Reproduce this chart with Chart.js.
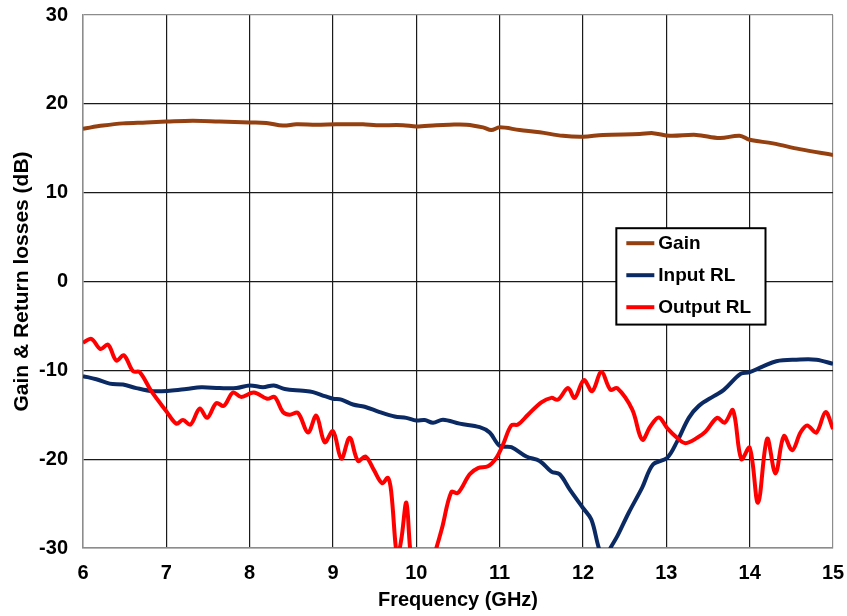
<!DOCTYPE html>
<html>
<head>
<meta charset="utf-8">
<script src="https://cdn.jsdelivr.net/npm/chart.js@4.4.1/dist/chart.umd.min.js"></script>
<style>
  html, body { margin: 0; padding: 0; background: #fff; }
  #wrap { width: 847px; height: 616px; }
</style>
</head>
<body>
<div id="wrap"><canvas id="grafico"></canvas></div>
<script>
// ---- data ----
const gainFreq = [6.0, 6.24, 6.48, 6.76, 7.0, 7.32, 7.64, 8.0, 8.2, 8.4, 8.56, 8.8, 9.04, 9.36, 9.52, 9.84, 10.0, 10.24, 10.4, 10.6, 10.8, 10.9, 11.0, 11.24, 11.48, 11.76, 12.0, 12.24, 12.68, 12.84, 13.04, 13.36, 13.64, 13.88, 14.0, 14.28, 14.6, 15.0];
const gainDb = [17.2, 17.55, 17.8, 17.9, 18.0, 18.1, 18.0, 17.9, 17.85, 17.55, 17.7, 17.65, 17.7, 17.7, 17.6, 17.6, 17.45, 17.6, 17.65, 17.65, 17.35, 17.05, 17.35, 17.05, 16.8, 16.4, 16.3, 16.5, 16.6, 16.7, 16.4, 16.5, 16.15, 16.4, 15.95, 15.55, 14.9, 14.25];

const inputFreq = [6.0, 6.16, 6.32, 6.48, 6.64, 6.84, 7.04, 7.24, 7.42, 7.64, 7.84, 8.0, 8.16, 8.29, 8.42, 8.64, 8.76, 8.9, 9.0, 9.1, 9.24, 9.38, 9.56, 9.74, 9.88, 10.0, 10.1, 10.2, 10.32, 10.52, 10.76, 10.88, 11.0, 11.14, 11.32, 11.48, 11.62, 11.72, 11.84, 12.0, 12.1, 12.19, 12.26, 12.33, 12.41, 12.55, 12.71, 12.84, 13.01, 13.13, 13.27, 13.39, 13.57, 13.69, 13.89, 14.0, 14.16, 14.32, 14.56, 14.8, 15.0];
const inputDb = [-10.65, -11.0, -11.5, -11.6, -12.0, -12.35, -12.3, -12.1, -11.9, -12.0, -12.0, -11.7, -11.9, -11.7, -12.1, -12.3, -12.45, -12.9, -13.2, -13.3, -13.85, -14.1, -14.7, -15.2, -15.35, -15.65, -15.6, -15.9, -15.55, -16.0, -16.4, -17.0, -18.5, -18.65, -19.7, -20.2, -21.4, -21.7, -23.4, -25.5, -26.8, -30, -31.5, -30, -28.7, -26.0, -23.2, -20.6, -19.85, -18.0, -15.35, -14.0, -12.9, -12.2, -10.4, -10.2, -9.55, -8.97, -8.8, -8.8, -9.27];

const outputFreq = [6.0, 6.1, 6.21, 6.3, 6.4, 6.49, 6.6, 6.68, 6.82, 7.0, 7.12, 7.2, 7.29, 7.4, 7.49, 7.6, 7.69, 7.8, 7.9, 8.05, 8.21, 8.3, 8.4, 8.48, 8.58, 8.7, 8.8, 8.9, 9.0, 9.1, 9.2, 9.3, 9.39, 9.49, 9.59, 9.66, 9.7, 9.77, 9.82, 9.88, 9.93, 9.97, 10.1, 10.24, 10.31, 10.42, 10.5, 10.64, 10.74, 10.86, 10.96, 11.04, 11.14, 11.22, 11.34, 11.5, 11.62, 11.7, 11.82, 11.9, 12.01, 12.11, 12.22, 12.33, 12.41, 12.59, 12.71, 12.81, 12.91, 13.01, 13.13, 13.23, 13.37, 13.47, 13.61, 13.7, 13.8, 13.9, 14.0, 14.1, 14.21, 14.31, 14.41, 14.51, 14.61, 14.69, 14.8, 14.91, 15.0];
const outputDb = [-6.9, -6.45, -7.6, -7.1, -8.9, -8.3, -10.1, -10.2, -12.35, -14.6, -16.0, -15.6, -16.1, -14.3, -15.35, -13.7, -14.0, -12.5, -13.0, -12.5, -13.2, -13.0, -14.7, -15.0, -14.8, -17.0, -15.1, -18.1, -16.85, -19.95, -17.6, -20.2, -19.7, -21.2, -22.7, -22.1, -23.8, -31, -29, -24.9, -30.5, -32, -34, -30, -27.7, -23.7, -23.8, -21.7, -21.0, -20.8, -19.85, -18.35, -16.2, -16.1, -15.0, -13.6, -13.1, -13.3, -12.0, -13.1, -11.1, -12.35, -10.2, -12.2, -12.0, -14.4, -17.8, -16.3, -15.3, -16.5, -17.6, -18.2, -17.6, -16.9, -15.35, -15.9, -14.5, -20.0, -18.7, -24.9, -17.7, -21.6, -17.4, -19.0, -17.0, -16.2, -17.0, -14.7, -16.6];

const seriesNames = ["Gain", "Input RL", "Output RL"];
const seriesColors = ["#954010", "#0b2a63", "#ff0000"];

const xTicks = [6, 7, 8, 9, 10, 11, 12, 13, 14, 15];
const yTicks = [-30, -20, -10, 0, 10, 20, 30];

const FONT = "'Liberation Sans', Arial, sans-serif";
const toPts = (xs, ys) => xs.map((x, i) => ({ x: x, y: ys[i] }));

// legend box drawn inside the plot, like the Excel original
const leyendaPlugin = {
  id: "leyenda",
  afterDraw(chart) {
    const { ctx, scales } = chart;
    const x0 = scales.x.getPixelForValue(12.4), x1 = scales.x.getPixelForValue(14.19);
    const y0 = scales.y.getPixelForValue(6.0), y1 = scales.y.getPixelForValue(-4.85);
    ctx.save();
    ctx.fillStyle = "#fff";
    ctx.fillRect(x0, y0, x1 - x0, y1 - y0);
    ctx.strokeStyle = "#000";
    ctx.lineWidth = 2;
    ctx.strokeRect(x0, y0, x1 - x0, y1 - y0);
    ctx.font = "bold 19px " + FONT;
    ctx.textBaseline = "middle";
    ctx.fillStyle = "#000";
    seriesNames.forEach((name, i) => {
      const yy = y0 + 15 + i * 32;
      ctx.strokeStyle = seriesColors[i];
      ctx.lineWidth = 4;
      ctx.beginPath();
      ctx.moveTo(x0 + 10, yy);
      ctx.lineTo(x0 + 38, yy);
      ctx.stroke();
      ctx.fillText(name, x0 + 42, yy + 1);
    });
    ctx.restore();
  }
};

const gridColor = ctx => {
  const v = ctx.tick && ctx.tick.value;
  const s = ctx.scale;
  return (v === s.min || v === s.max) ? "#8c8c8c" : "#1a1a1a";
};

new Chart(document.getElementById("grafico"), {
  type: "line",
  data: {
    datasets: [
      { label: seriesNames[0], data: toPts(gainFreq, gainDb), borderColor: seriesColors[0], order: 2 },
      { label: seriesNames[1], data: toPts(inputFreq, inputDb), borderColor: seriesColors[1], order: 1 },
      { label: seriesNames[2], data: toPts(outputFreq, outputDb), borderColor: seriesColors[2], order: 0 }
    ].map(d => Object.assign(d, { borderWidth: 4, pointRadius: 0, tension: 0.35, fill: false }))
  },
  options: {
    responsive: true,
    maintainAspectRatio: false,
    animation: false,
    layout: { padding: { top: 15, right: 14, bottom: 0, left: 0 } },
    plugins: { legend: { display: false }, tooltip: { enabled: false } },
    scales: {
      x: {
        type: "linear",
        min: 6, max: 15,
        afterBuildTicks: s => { s.ticks = xTicks.map(v => ({ value: v })); },
        afterFit: s => { s.height = 68; s.paddingLeft = 0; s.paddingRight = 0; },
        grid: { color: gridColor, lineWidth: 1.2, drawTicks: false },
        border: { color: "#8c8c8c", width: 1.5 },
        ticks: { color: "#000", padding: 13, font: { family: FONT, size: 20, weight: "bold" } },
        title: { display: true, text: "Frequency (GHz)", color: "#000", padding: { top: 0, bottom: 4 }, font: { family: FONT, size: 20, weight: "bold" } }
      },
      y: {
        min: -30, max: 30,
        afterBuildTicks: s => { s.ticks = yTicks.map(v => ({ value: v })); },
        afterFit: s => { s.width = 83; s.paddingTop = 0; s.paddingBottom = 0; },
        grid: { color: gridColor, lineWidth: 1.2, drawTicks: false },
        border: { color: "#8c8c8c", width: 1.5 },
        ticks: { color: "#000", padding: 15, font: { family: FONT, size: 20, weight: "bold" } },
        title: { display: true, text: "Gain & Return losses (dB)", color: "#000", padding: { top: 10, bottom: 0 }, font: { family: FONT, size: 21, weight: "bold" } }
      }
    }
  },
  plugins: [leyendaPlugin]
});
</script>
</body>
</html>
